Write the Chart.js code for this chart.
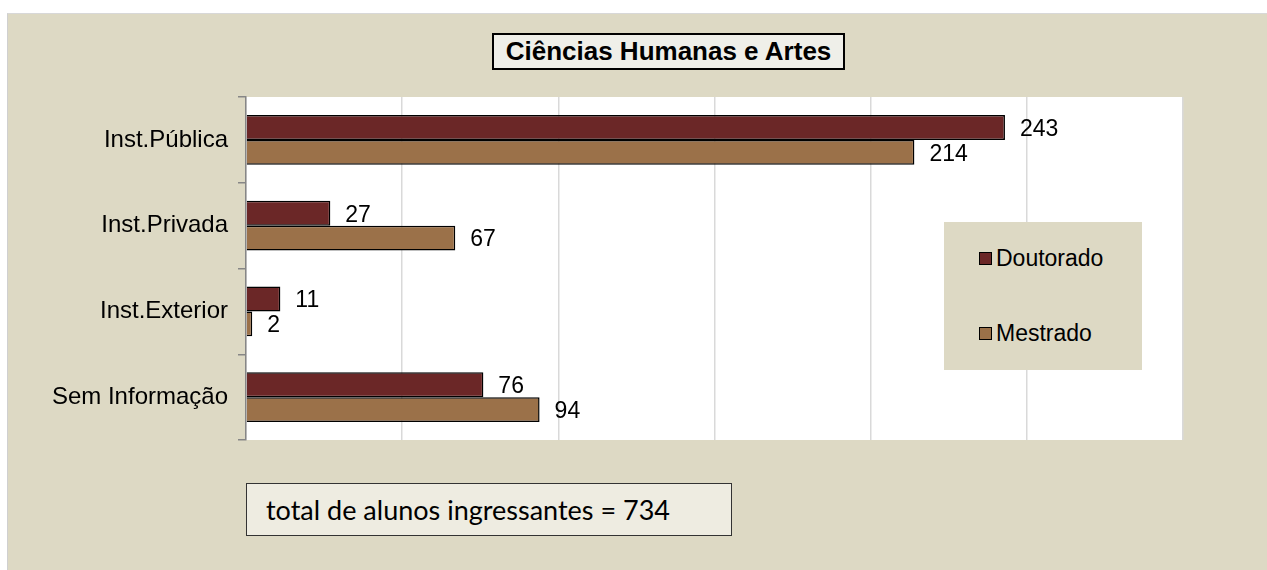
<!DOCTYPE html>
<html>
<head>
<meta charset="utf-8">
<script src="https://cdn.jsdelivr.net/npm/chart.js@4"></script>
<style>
    body { margin: 0; background: #ffffff; width: 1267px; height: 570px; overflow: hidden; position: relative; }
    #fundo { position: absolute; left: 7px; top: 13px; right: 0; bottom: 0; background: #ddd9c4; border-left: 1px solid #d0d0d0; border-top: 1px solid #d8d8d8; }
    #grafico-wrap { position: absolute; left: 0; top: 0; width: 1267px; height: 570px; }
    #titulo { position: absolute; left: 492px; top: 33px; width: 349px; height: 33px; background: #efefe9; border: 2px solid #000;
              font: bold 26px "Liberation Sans", Arial, sans-serif; text-align: center; line-height: 33px; color: #000; white-space: nowrap; }
    #legenda { position: absolute; left: 944px; top: 222px; width: 198px; height: 148px; background: #ddd9c4;
               font: 23px "Liberation Sans", Arial, sans-serif; color: #000; }
    .item { position: absolute; left: 35px; height: 26px; line-height: 26px; white-space: nowrap; }
    .item span.cor { display: inline-block; width: 11px; height: 11px; border: 1.5px solid #000; margin-right: 4px; vertical-align: 1px; }
    #total { position: absolute; left: 246px; top: 483px; width: 465px; height: 51px; background: #eeece1; border: 1.5px solid #333;
             font: 27px Lato, sans-serif; line-height: 51px; padding-left: 19px; box-sizing: content-box; color: #000; white-space: nowrap; }
</style>
</head>
<body>
<div id="fundo"></div>
<div id="grafico-wrap"><canvas id="grafico" width="1267" height="570"></canvas></div>
<div id="titulo">Ciências Humanas e Artes</div>
<div id="legenda"></div>
<div id="total"></div>
<script>
// dados
const categorias = ['Inst.Pública', 'Inst.Privada', 'Inst.Exterior', 'Sem Informação'];
const doutorado = [243, 27, 11, 76];
const mestrado = [214, 67, 2, 94];
const nomesSeries = ['Doutorado', 'Mestrado'];
const coresSeries = ['#6b2727', '#9b7149'];
const totalAlunos = 734;

document.getElementById('total').textContent = 'total de alunos ingressantes = ' + totalAlunos;

// legenda em HTML
const legenda = document.getElementById('legenda');
nomesSeries.forEach((nome, i) => {
    const item = document.createElement('div');
    item.className = 'item';
    item.style.top = (23 + i * 75) + 'px';
    item.innerHTML = '<span class="cor" style="background:' + coresSeries[i] + '"></span>' + nome;
    legenda.appendChild(item);
});

// fundo branco da área de plotagem
const fundoArea = {
    id: 'fundoArea',
    beforeDraw(chart) {
        const { ctx, chartArea } = chart;
        ctx.save();
        ctx.fillStyle = '#ffffff';
        ctx.fillRect(chartArea.left, chartArea.top, chartArea.right - chartArea.left, chartArea.bottom - chartArea.top);
        ctx.restore();
    }
};

// rótulos de valor ao lado das barras
const rotulos = {
    id: 'rotulos',
    afterDatasetsDraw(chart) {
        const ctx = chart.ctx;
        ctx.save();
        ctx.font = '23px "Liberation Sans", Arial, sans-serif';
        ctx.fillStyle = '#000';
        ctx.textAlign = 'left';
        ctx.textBaseline = 'middle';
        chart.data.datasets.forEach((ds, i) => {
            chart.getDatasetMeta(i).data.forEach((bar, j) => {
                ctx.fillText(ds.data[j], bar.x + 15, bar.y + 2);
            });
        });
        ctx.restore();
    }
};

new Chart(document.getElementById('grafico'), {
    type: 'bar',
    data: {
        labels: categorias,
        datasets: [
            { label: nomesSeries[0], data: doutorado, backgroundColor: coresSeries[0], borderColor: '#000', borderWidth: 1.5 },
            { label: nomesSeries[1], data: mestrado, backgroundColor: coresSeries[1], borderColor: '#000', borderWidth: 1.5 }
        ]
    },
    options: {
        indexAxis: 'y',
        responsive: false,
        animation: false,
        categoryPercentage: 0.58,
        barPercentage: 1.0,
        layout: { padding: { top: 97, bottom: 130, right: 84, left: 0 } },
        plugins: {
            legend: { display: false },
            tooltip: { enabled: false }
        },
        scales: {
            x: {
                min: 0,
                max: 300,
                ticks: { display: false, stepSize: 50 },
                grid: { color: '#d9d9d9', lineWidth: 1.5, drawTicks: false },
                border: { display: false },
                afterFit: s => { s.height = 0; }
            },
            y: {
                ticks: { color: '#000', padding: 10, font: { family: '"Liberation Sans", Arial, sans-serif', size: 24 } },
                grid: { drawOnChartArea: false, drawTicks: true, tickLength: 8, color: '#868686', lineWidth: 1.5, offset: true },
                border: { display: true, color: '#868686', width: 1.5 },
                afterFit: s => { s.width = 246; }
            }
        }
    },
    plugins: [fundoArea, rotulos]
});
</script>
</body>
</html>
